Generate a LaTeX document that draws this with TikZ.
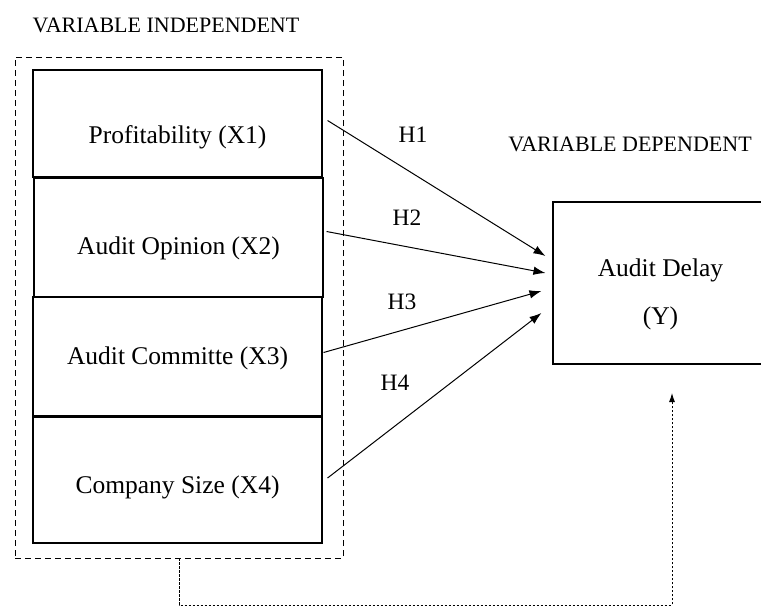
\documentclass[tikz,border=0pt]{standalone}
\usepackage{fontspec}
\setmainfont{Liberation Serif}
\usepackage{tikz}
\usetikzlibrary{positioning,arrows.meta}

\tikzset{
	varbox/.style={draw, line width=1.1pt, minimum width=289pt, inner sep=0pt},
	boxtext/.style={font=\fontsize{25.5}{29}\selectfont},
	headtext/.style={font=\fontsize{22}{25}\selectfont},
	hyptext/.style={font=\fontsize{23.5}{26}\selectfont},
	hyp/.style={-{Latex[length=12pt,width=8.5pt]}, line width=1pt},
	dotline/.style={line width=0.9pt, dash pattern=on 2.5pt off 1.5pt},
}

\begin{document}
\begin{tikzpicture}[x=1pt, y=-1pt]
					\useasboundingbox (0,0) rectangle (761,608);
					\node[headtext] (indeplab) at (166,25) {VARIABLE INDEPENDENT};
					\node[headtext] (deplab) at (630,144) {VARIABLE DEPENDENT};
					\node[draw, line width=0.9pt, dash pattern=on 6pt off 4pt, minimum width=328pt, minimum height=501pt] (indep) at (179,307.5) {};
					\node[varbox, minimum height=107pt, label={[boxtext, yshift=-13.5pt]center:Profitability (X1)}] (x1) at (177.5,123.5) {};
					\node[varbox, minimum height=119pt, label={[boxtext, yshift=-10.5pt]center:Audit Opinion (X2)}] (x2) at (178.5,237.5) {};
					\node[varbox, minimum height=119pt, label={[boxtext, yshift=-1.5pt]center:Audit Committe (X3)}] (x3) at (177.5,356.5) {};
					\node[varbox, minimum height=126pt, label={[boxtext, yshift=-7pt]center:Company Size (X4)}] (x4) at (177.5,480) {};
					\node[varbox, minimum width=215pt, minimum height=162pt, label={[boxtext, align=center, yshift=-11pt]center:Audit Delay\\[19pt](Y)}] (y) at (660.5,283) {};
					\node[hyptext] (h1) at (413,135) {H1};
					\node[hyptext] (h2) at (407,218) {H2};
					\node[hyptext] (h3) at (402,302) {H3};
					\node[hyptext] (h4) at (395,383) {H4};
					\coordinate (tip) at (672,393);
		
					\draw[hyp] ([xshift=5pt, yshift=3pt]x1.east) -- ([xshift=-7pt, yshift=27pt]y.west);
					\draw[hyp] ([xshift=3pt, yshift=6pt]x2.east) -- ([xshift=-7pt, yshift=10pt]y.west);
					\draw[hyp] ([xshift=1pt, yshift=4pt]x3.east) -- ([xshift=-11pt, yshift=-8pt]y.west);
					\draw[hyp] ([xshift=5pt, yshift=2pt]x4.east) -- ([xshift=-11pt, yshift=-30pt]y.west);
					\draw[dotline, -{Latex[length=9pt,width=6pt]}] (indep.south) -- ++(0,46.5) -| (tip);
				\end{tikzpicture}
\end{document}
